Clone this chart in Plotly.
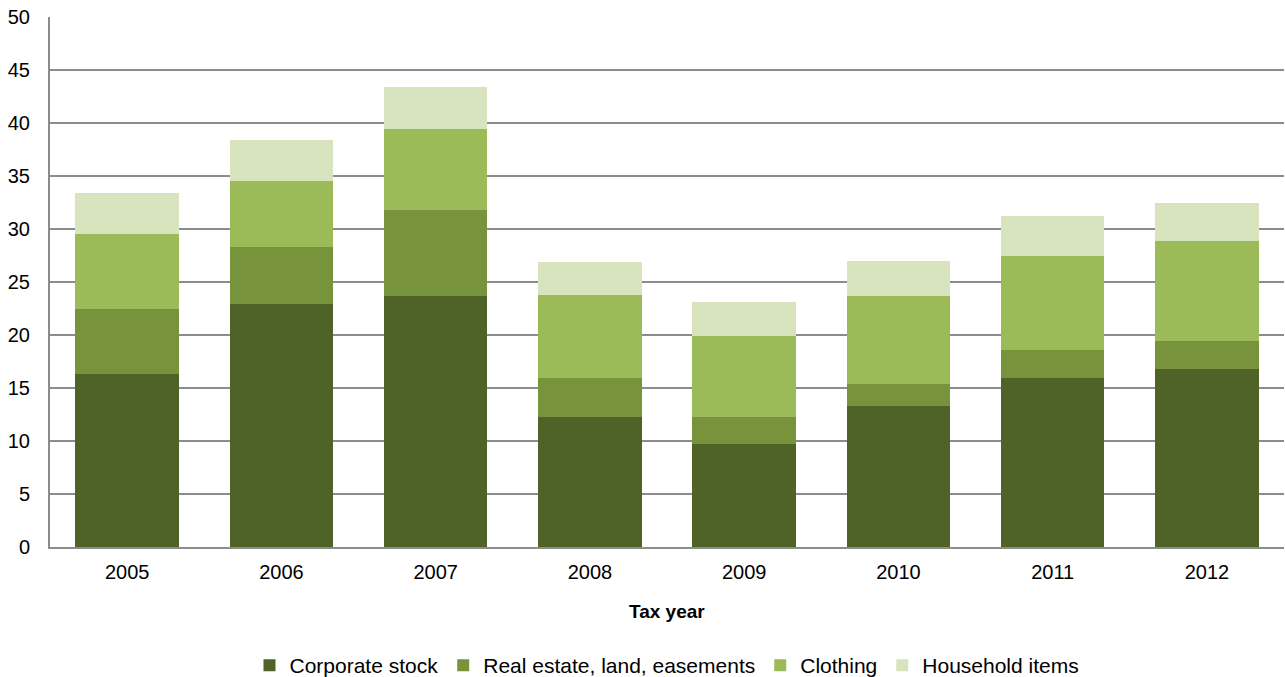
import plotly.graph_objects as go

years = ["2005", "2006", "2007", "2008", "2009", "2010", "2011", "2012"]
corporate_stock = [16.3, 22.9, 23.7, 12.3, 9.7, 13.3, 15.9, 16.8]
real_estate = [6.2, 5.4, 8.1, 3.6, 2.6, 2.1, 2.7, 2.6]
clothing = [7.0, 6.2, 7.6, 7.9, 7.6, 8.3, 8.9, 9.5]
household = [3.9, 3.9, 4.0, 3.1, 3.2, 3.3, 3.7, 3.6]

series = [
    ("Corporate stock", corporate_stock, "#4F6228"),
    ("Real estate, land, easements", real_estate, "#77933C"),
    ("Clothing", clothing, "#9BBB59"),
    ("Household items", household, "#D7E4BD"),
]

fig = go.Figure()
for name, vals, color in series:
    fig.add_trace(go.Bar(
        x=years, y=vals, name=name,
        marker=dict(color=color, line=dict(width=0)),
    ))

fig.update_layout(
    barmode="stack",
    bargap=0.33,
    width=1285, height=677,
    margin=dict(l=50, r=1, t=17, b=130, autoexpand=False),
    paper_bgcolor="white", plot_bgcolor="white",
    font=dict(family="Liberation Sans, Arial, sans-serif", size=20, color="black"),
    xaxis=dict(
        showline=True, linecolor="#8C8C8C", linewidth=2,
        ticks="", ticklabelstandoff=6, automargin=False,
    ),
    yaxis=dict(
        range=[0, 50], dtick=5,
        showgrid=True, gridcolor="#8C8C8C", gridwidth=1.5,
        showline=True, linecolor="#8C8C8C", linewidth=2,
        ticks="", ticklabelstandoff=14, zeroline=False, automargin=False,
    ),
    legend=dict(
        orientation="h", x=0.5, xanchor="center", y=-0.185, yanchor="top",
        font=dict(size=21), itemwidth=30, traceorder="normal",
    ),
    annotations=[dict(
        text="<b>Tax year</b>", xref="paper", yref="paper",
        x=0.5, y=-0.122, xanchor="center", yanchor="middle",
        showarrow=False, font=dict(size=19),
    )],
)

fig.write_html("out.html")
